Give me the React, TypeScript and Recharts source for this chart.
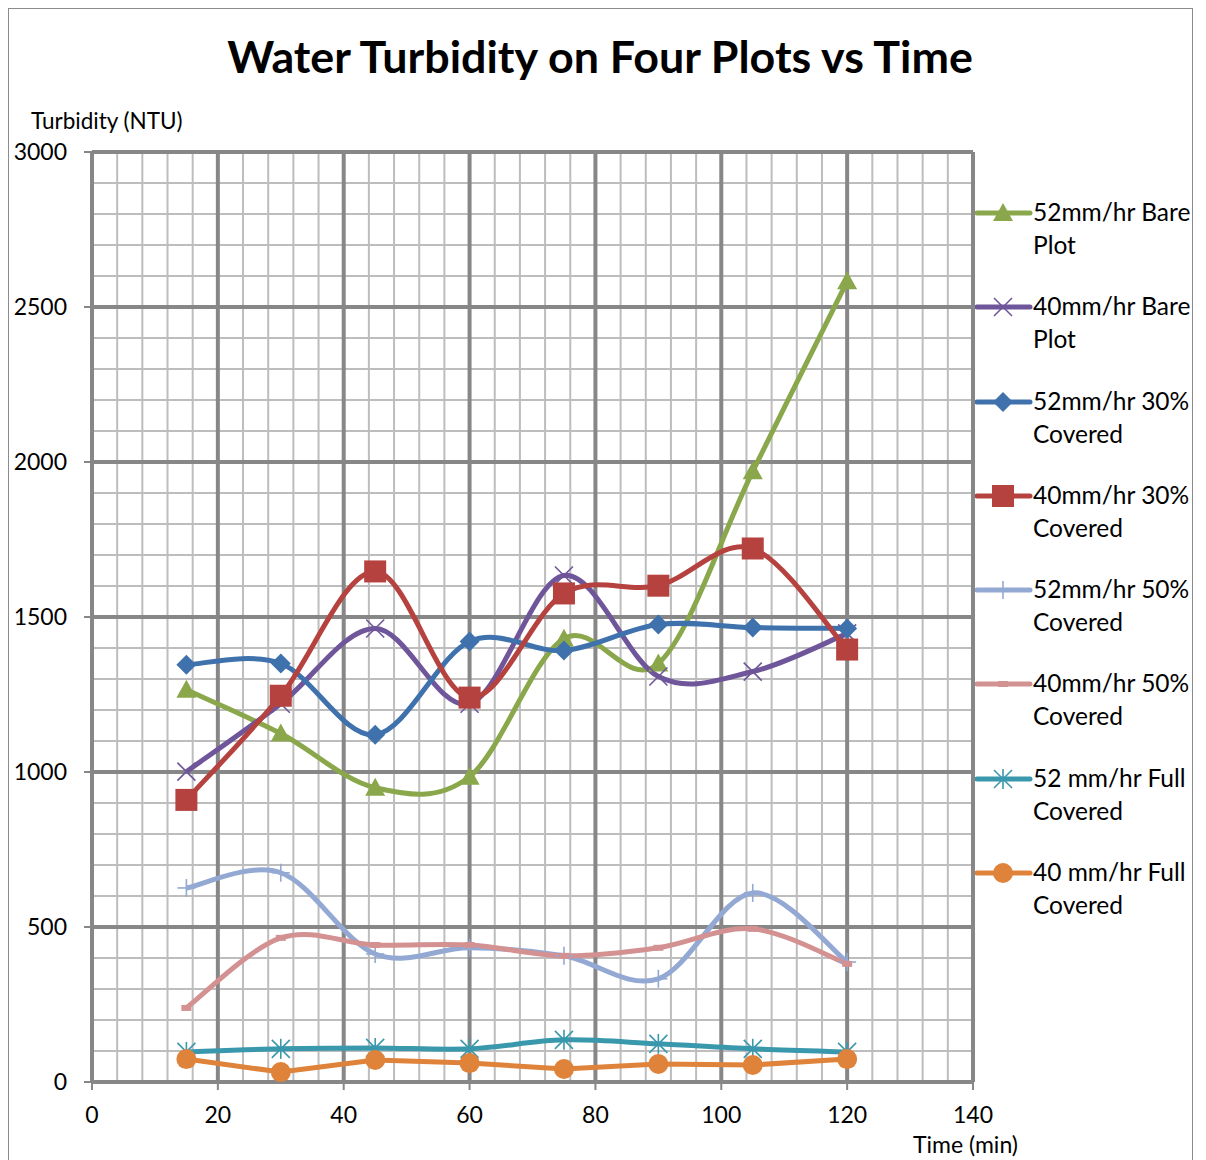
import { CartesianGrid, Line, LineChart, XAxis, YAxis } from "recharts";

const TIMES = [15, 30, 45, 60, 75, 90, 105, 120];
const BARE_52 = [1265, 1124, 949, 985, 1430, 1350, 1970, 2583];
const BARE_40 = [1001, 1220, 1463, 1220, 1634, 1308, 1324, 1447];
const COV30_52 = [1346, 1350, 1120, 1421, 1392, 1476, 1466, 1463];
const COV30_40 = [910, 1246, 1647, 1240, 1576, 1601, 1721, 1395];
const COV50_52 = [626, 675, 413, 433, 407, 333, 610, 387];
const COV50_40 = [239, 465, 442, 442, 407, 433, 494, 381];
const FULL_52 = [97, 107, 110, 107, 136, 123, 107, 97];
const FULL_40 = [74, 32, 71, 61, 42, 58, 55, 74];

const X_TICKS = [0, 20, 40, 60, 80, 100, 120, 140];
const Y_TICKS = [0, 500, 1000, 1500, 2000, 2500, 3000];
const X_MINOR = Array.from({ length: 36 }, (_, i) => i * 4);
const Y_MINOR = Array.from({ length: 31 }, (_, i) => i * 100);

const SERIES = [
  { key: "b52", name: ["52mm/hr Bare", "Plot"], values: BARE_52, color: "#8aa84b", marker: "triangle", smooth: true },
  { key: "b40", name: ["40mm/hr Bare", "Plot"], values: BARE_40, color: "#6f559a", marker: "x", smooth: true },
  { key: "c52", name: ["52mm/hr 30%", "Covered"], values: COV30_52, color: "#3f72ad", marker: "diamond", smooth: true },
  { key: "c40", name: ["40mm/hr 30%", "Covered"], values: COV30_40, color: "#b5423f", marker: "square", smooth: true },
  { key: "h52", name: ["52mm/hr 50%", "Covered"], values: COV50_52, color: "#93a9d3", marker: "plus", smooth: true },
  { key: "h40", name: ["40mm/hr 50%", "Covered"], values: COV50_40, color: "#d39191", marker: "dash", smooth: true },
  { key: "f52", name: ["52 mm/hr Full", "Covered"], values: FULL_52, color: "#3a98ad", marker: "star", smooth: true },
  { key: "f40", name: ["40 mm/hr Full", "Covered"], values: FULL_40, color: "#df833a", marker: "circle", smooth: false },
];

const data = TIMES.map((t, i) => {
  const row: any = { t };
  SERIES.forEach((s) => (row[s.key] = s.values[i]));
  return row;
});

const FONT = "Lato, 'Open Sans', sans-serif";

// Excel-like smoothing (Catmull-Rom bezier)
function excelSmooth(context: any) {
  let pts: number[][] = [];
  return {
    areaStart() {},
    areaEnd() {},
    lineStart() {
      pts = [];
    },
    point(x: number, y: number) {
      pts.push([+x, +y]);
    },
    lineEnd() {
      const n = pts.length;
      if (!n) return;
      context.moveTo(pts[0][0], pts[0][1]);
      for (let i = 0; i < n - 1; i++) {
        const p0 = pts[Math.max(i - 1, 0)];
        const p1 = pts[i];
        const p2 = pts[i + 1];
        const p3 = pts[Math.min(i + 2, n - 1)];
        context.bezierCurveTo(
          p1[0] + (p2[0] - p0[0]) / 6,
          p1[1] + (p2[1] - p0[1]) / 6,
          p2[0] - (p3[0] - p1[0]) / 6,
          p2[1] - (p3[1] - p1[1]) / 6,
          p2[0],
          p2[1]
        );
      }
    },
  };
}

function Marker({ kind, cx, cy, color }: any) {
  switch (kind) {
    case "triangle":
      return <polygon points={`${cx},${cy - 10} ${cx + 10},${cy + 8} ${cx - 10},${cy + 8}`} fill={color} />;
    case "x":
      return (
        <g stroke={color} strokeWidth={1.6}>
          <line x1={cx - 9} y1={cy - 9} x2={cx + 9} y2={cy + 9} />
          <line x1={cx - 9} y1={cy + 9} x2={cx + 9} y2={cy - 9} />
        </g>
      );
    case "diamond":
      return <polygon points={`${cx},${cy - 10} ${cx + 10},${cy} ${cx},${cy + 10} ${cx - 10},${cy}`} fill={color} />;
    case "square":
      return <rect x={cx - 11} y={cy - 11} width={22} height={22} fill={color} />;
    case "plus":
      return (
        <g stroke={color} strokeWidth={1.6}>
          <line x1={cx} y1={cy - 9} x2={cx} y2={cy + 9} />
          <line x1={cx - 9} y1={cy} x2={cx + 9} y2={cy} />
        </g>
      );
    case "dash":
      return <line x1={cx - 5} y1={cy} x2={cx + 5} y2={cy} stroke={color} strokeWidth={6} />;
    case "star":
      return (
        <g stroke={color} strokeWidth={1.6}>
          <line x1={cx} y1={cy - 10} x2={cx} y2={cy + 10} />
          <line x1={cx - 9} y1={cy - 9} x2={cx + 9} y2={cy + 9} />
          <line x1={cx - 9} y1={cy + 9} x2={cx + 9} y2={cy - 9} />
        </g>
      );
    case "circle":
      return <circle cx={cx} cy={cy} r={10} fill={color} />;
    default:
      return null;
  }
}

export default function App() {
  return (
    <div
      style={{
        position: "relative",
        width: 1185,
        height: 1170,
        border: "1.5px solid #8c8c8c",
        boxSizing: "border-box",
        fontFamily: FONT,
        background: "#fff",
      }}
    >
      <div
        style={{
          position: "absolute",
          top: 20,
          left: 0,
          width: 1182,
          textAlign: "center",
          fontSize: 44.8,
          fontWeight: 700,
          color: "#000",
        }}
      >
        Water Turbidity on Four Plots vs Time
      </div>
      <div style={{ position: "absolute", left: 22, top: 98, fontSize: 22.5, color: "#000" }}>Turbidity (NTU)</div>
      <div style={{ position: "absolute", left: 904, top: 1121, fontSize: 23, color: "#000" }}>Time (min)</div>

      <div style={{ position: "absolute", left: 0, top: 0 }}>
        <LineChart width={1183} height={1150} data={data} margin={{ top: 143, right: 219, bottom: 33, left: 0 }}>
          <CartesianGrid
            verticalValues={X_MINOR}
            horizontalValues={Y_MINOR}
            stroke="#bdbdbd"
            strokeWidth={2}
          />
          <CartesianGrid
            verticalValues={X_TICKS}
            horizontalValues={Y_TICKS}
            stroke="#878787"
            strokeWidth={4}
          />
          <XAxis
            dataKey="t"
            type="number"
            domain={[0, 140]}
            ticks={X_TICKS}
            interval={0}
            height={44}
            tickSize={8}
            tickMargin={17}
            axisLine={{ stroke: "#878787", strokeWidth: 2 }}
            tickLine={{ stroke: "#878787", strokeWidth: 2 }}
            tick={{ fill: "#000", fontSize: 23, fontFamily: FONT }}
          />
          <YAxis
            type="number"
            domain={[0, 3000]}
            ticks={Y_TICKS}
            interval={0}
            width={83}
            tickSize={8}
            tickMargin={17}
            axisLine={{ stroke: "#878787", strokeWidth: 2 }}
            tickLine={{ stroke: "#878787", strokeWidth: 2 }}
            tick={{ fill: "#000", fontSize: 23, fontFamily: FONT }}
          />
          {SERIES.map((s) => (
            <Line
              key={s.key}
              dataKey={s.key}
              type={s.smooth ? (excelSmooth as any) : "linear"}
              stroke={s.color}
              strokeWidth={5}
              isAnimationActive={false}
              activeDot={false}
              dot={(p: any) => (
                <Marker key={`${s.key}-${p.index}`} kind={s.marker} cx={p.cx} cy={p.cy} color={s.color} />
              )}
            />
          ))}
        </LineChart>
      </div>

      <div style={{ position: "absolute", left: 966, top: 189 }}>
        {SERIES.map((s) => (
          <div key={s.key} style={{ display: "flex", alignItems: "flex-start", height: 94.3 }}>
            <svg width={58} height={30} style={{ flexShrink: 0 }}>
              <line x1={2} y1={15} x2={55} y2={15} stroke={s.color} strokeWidth={5} strokeLinecap="round" />
              <Marker kind={s.marker} cx={28} cy={15} color={s.color} />
            </svg>
            <div style={{ fontSize: 24.5, lineHeight: "33px", color: "#000", marginTop: -3, whiteSpace: "nowrap" }}>
              {s.name[0]}
              <br />
              {s.name[1]}
            </div>
          </div>
        ))}
      </div>
    </div>
  );
}
